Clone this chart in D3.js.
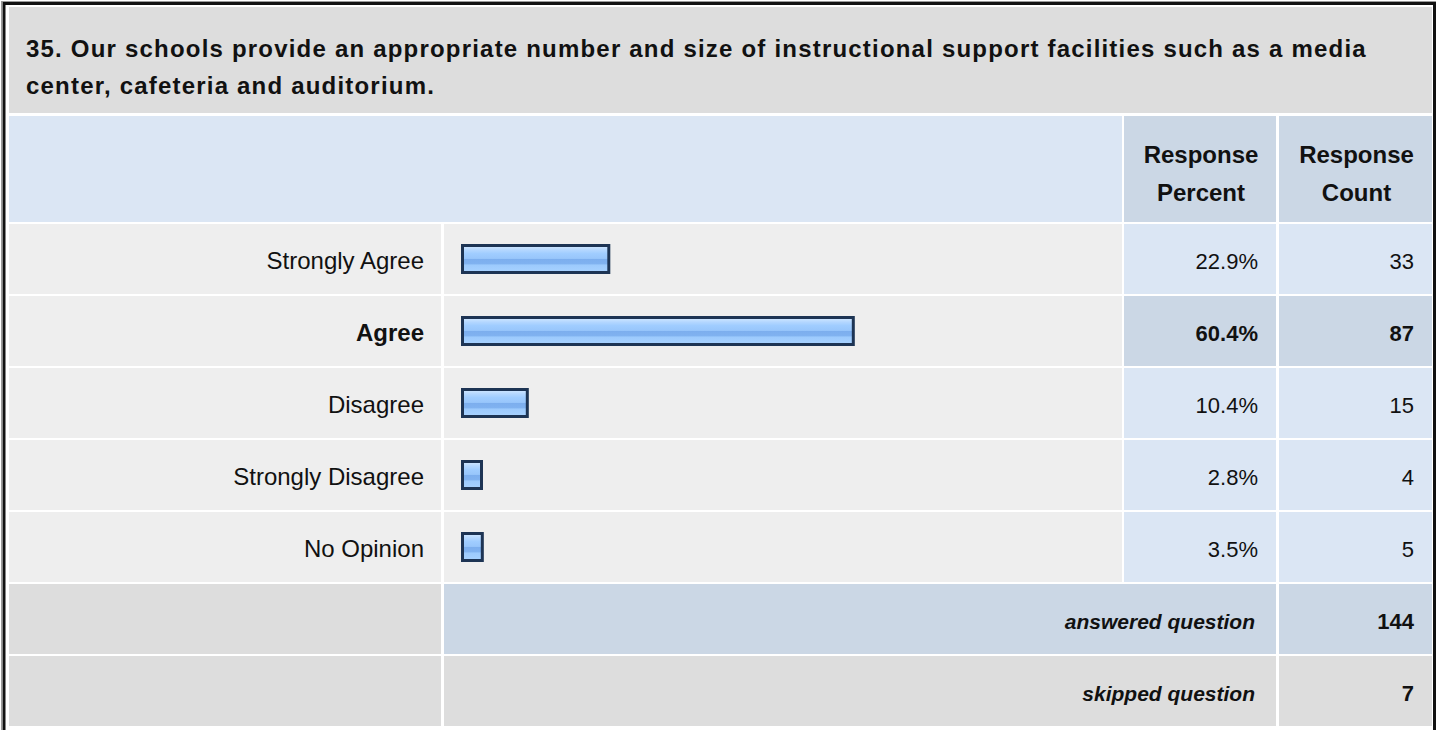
<!DOCTYPE html>
<html><head><meta charset="utf-8">
<script src="https://cdn.jsdelivr.net/npm/d3@7"></script>
<style>html,body{margin:0;padding:0;background:#fff;overflow:hidden}svg{display:block;font-family:"Liberation Sans",Arial,sans-serif}</style>
</head><body><svg id="c" width="1437" height="730"></svg>
<script>
const titleLines = ["35. Our schools provide an appropriate number and size of instructional support facilities such as a media","center, cafeteria and auditorium."];
const headerPercent = ["Response","Percent"];
const headerCount = ["Response","Count"];
const categories = ["Strongly Agree","Agree","Disagree","Strongly Disagree","No Opinion"];
const percents = [22.9,60.4,10.4,2.8,3.5];
const counts = [33,87,15,4,5];
const summaryLabels = ["answered question","skipped question"];
const summaryValues = [144,7];

const svg = d3.select("#c");
const C = {gray:"#dddddd", row:"#eeeeee", blue:"#dbe6f4", blue2:"#cbd7e5"};
const colX = {l0:9,l1:441,b0:444,b1:1122,p0:1124,p1:1276,c0:1279,c1:1432};

const defs = svg.append("defs");
const g = defs.append("linearGradient").attr("id","barg").attr("x1",0).attr("y1",0).attr("x2",0).attr("y2",1);
[[0,"#d4e9ff"],[0.18,"#b2d6ff"],[0.3,"#a0cdff"],[0.48,"#98c6fb"],[0.5,"#7caeee"],[0.68,"#80b2f0"],[0.72,"#9ccafd"],[1,"#a8d2ff"]]
 .forEach(([o,c])=>g.append("stop").attr("offset",o).attr("stop-color",c));

svg.append("rect").attr("x",1.5).attr("y",1.5).attr("width",1434).attr("height",740).attr("fill","none").attr("stroke","#9a9a9a").attr("stroke-width",1);
svg.append("rect").attr("x",4).attr("y",3.5).attr("width",1430.5).attr("height",740).attr("fill","none").attr("stroke","#111").attr("stroke-width",3);

svg.append("rect").attr("x",colX.l0).attr("y",7).attr("width",colX.c1-colX.l0).attr("height",106).attr("fill",C.gray);
svg.append("g").selectAll("text").data(titleLines).join("text")
  .attr("x",26).attr("y",(d,i)=>57+i*37).attr("font-size",24).attr("font-weight","bold").attr("letter-spacing",1.2).attr("fill","#111").text(d=>d);

const hy0=116, hy1=222;
svg.append("rect").attr("x",colX.l0).attr("y",hy0).attr("width",colX.b1-colX.l0).attr("height",hy1-hy0).attr("fill",C.blue);
[[colX.p0,colX.p1,headerPercent],[colX.c0,colX.c1,headerCount]].forEach(([a,b,t])=>{
  svg.append("rect").attr("x",a).attr("y",hy0).attr("width",b-a).attr("height",hy1-hy0).attr("fill",C.blue2);
  svg.append("g").selectAll("text").data(t).join("text").attr("x",(a+b)/2+1).attr("y",(d,i)=>163+i*38)
    .attr("text-anchor","middle").attr("font-size",24).attr("font-weight","bold").attr("fill","#111").text(d=>d);
});

const y = d3.scaleBand().domain(d3.range(7)).range([224,728]).paddingInner(0);
const rh = y.bandwidth()-2;
const x = d3.scaleLinear().domain([0,100]).range([0,652]);
const maxI = percents.indexOf(d3.max(percents));

const rows = svg.append("g").selectAll("g").data(categories).join("g").attr("transform",(d,i)=>`translate(0,${y(i)})`);
rows.append("rect").attr("x",colX.l0).attr("width",colX.l1-colX.l0).attr("height",rh).attr("fill",C.row);
rows.append("rect").attr("x",colX.b0).attr("width",colX.b1-colX.b0).attr("height",rh).attr("fill",C.row);
rows.append("rect").attr("x",colX.p0).attr("width",colX.p1-colX.p0).attr("height",rh).attr("fill",(d,i)=>i===maxI?C.blue2:C.blue);
rows.append("rect").attr("x",colX.c0).attr("width",colX.c1-colX.c0).attr("height",rh).attr("fill",(d,i)=>i===maxI?C.blue2:C.blue);
const fw=(d,i)=>i===maxI?"bold":"normal";
rows.append("text").attr("x",424).attr("y",rh/2+10).attr("text-anchor","end").attr("font-size",24).attr("font-weight",fw).attr("fill","#111").text(d=>d);
rows.append("text").attr("x",1258).attr("y",rh/2+10).attr("text-anchor","end").attr("font-size",22).attr("font-weight",fw).attr("fill","#111").text((d,i)=>percents[i].toFixed(1)+"%");
rows.append("text").attr("x",1414).attr("y",rh/2+10).attr("text-anchor","end").attr("font-size",22).attr("font-weight",fw).attr("fill","#111").text((d,i)=>counts[i]);
rows.append("rect").attr("x",462.5).attr("y",21.5).attr("height",27)
  .attr("width",(d,i)=>Math.max(x(percents[i]),22)-3)
  .attr("fill","url(#barg)").attr("stroke","#1d3454").attr("stroke-width",3);

const srows = svg.append("g").selectAll("g").data(summaryLabels).join("g").attr("transform",(d,i)=>`translate(0,${y(i+5)})`);
srows.append("rect").attr("x",colX.l0).attr("width",colX.l1-colX.l0).attr("height",rh).attr("fill",C.gray);
srows.append("rect").attr("x",colX.b0).attr("width",colX.p1-colX.b0).attr("height",rh).attr("fill",(d,i)=>i===0?C.blue2:C.gray);
srows.append("rect").attr("x",colX.c0).attr("width",colX.c1-colX.c0).attr("height",rh).attr("fill",(d,i)=>i===0?C.blue2:C.gray);
srows.append("text").attr("x",1255).attr("y",rh/2+10).attr("text-anchor","end").attr("font-size",21).attr("font-weight","bold").attr("font-style","italic").attr("fill","#111").text(d=>d);
srows.append("text").attr("x",1414).attr("y",rh/2+10).attr("text-anchor","end").attr("font-size",22).attr("font-weight","bold").attr("fill","#111").text((d,i)=>summaryValues[i]);
</script></body></html>
